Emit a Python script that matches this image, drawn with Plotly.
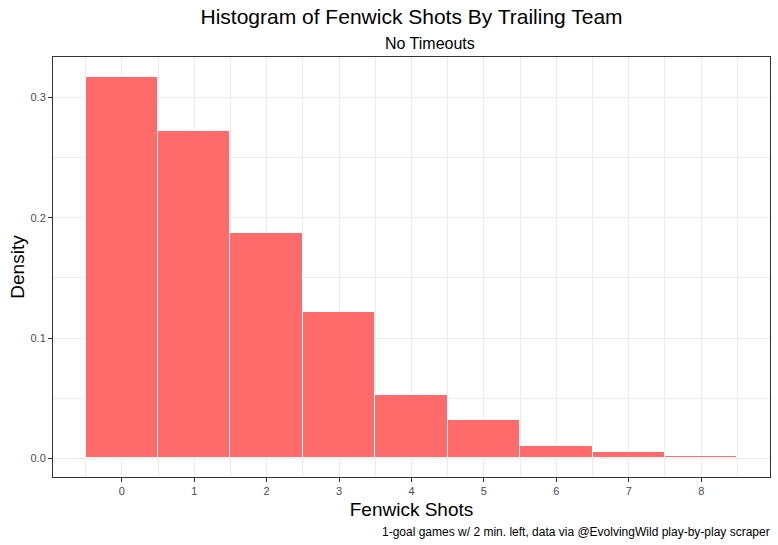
import plotly.graph_objects as go

shots = [0, 1, 2, 3, 4, 5, 6, 7, 8]
density = [0.3172, 0.2721, 0.1873, 0.1217, 0.0527, 0.0318, 0.0102, 0.0052, 0.0019]
y_ticks = [0.0, 0.1, 0.2, 0.3]
y_tick_labels = ["0.0", "0.1", "0.2", "0.3"]

FONT = "Arial, Liberation Sans, sans-serif"

fig = go.Figure()
fig.add_trace(go.Bar(
    x=shots, y=density, width=1,
    marker=dict(color="#FF6A6A", line=dict(color="white", width=1)),
    showlegend=False,
))

axis_common = dict(
    showline=True, linecolor="#333333", linewidth=1, mirror=True,
    ticks="outside", ticklen=4, tickcolor="#333333", tickwidth=1,
    tickfont=dict(family=FONT, size=11, color="#4d4d4d"),
    gridcolor="#ebebeb", gridwidth=1, zeroline=False, automargin=False,
)

fig.update_layout(
    width=778, height=545,
    margin=dict(l=53, r=8, t=57, b=68),
    plot_bgcolor="white", paper_bgcolor="white",
    font=dict(family=FONT, color="black"),
    bargap=0,
    title=dict(text="Histogram of Fenwick Shots By Trailing Team", x=0.529, xanchor="center",
               y=1 - 17 / 545, yanchor="middle", font=dict(size=21, color="black", family=FONT)),
    xaxis=dict(range=[-0.95, 8.95], tickmode="array", tickvals=shots,
               ticktext=[str(s) for s in shots],
               title=dict(text="Fenwick Shots", font=dict(size=19, family=FONT, color="black"), standoff=6),
               minor=dict(tick0=0.5, dtick=1, showgrid=True, gridcolor="#ebebeb", ticks=""),
               **axis_common),
    yaxis=dict(range=[-0.0155, 0.3336], tickmode="array", tickvals=y_ticks, ticktext=y_tick_labels,
               title=dict(text="Density", font=dict(size=19, family=FONT, color="black"), standoff=0),
               minor=dict(tick0=0.05, dtick=0.1, showgrid=True, gridcolor="#ebebeb", ticks=""),
               **axis_common),
    annotations=[
        dict(text="No Timeouts", xref="paper", yref="paper", x=0.526, y=1.0, yshift=14,
             xanchor="center", yanchor="middle", showarrow=False,
             font=dict(size=16, family=FONT, color="black")),
        dict(text="1-goal games w/ 2 min. left, data via @EvolvingWild play-by-play scraper",
             xref="paper", yref="paper", x=1.0, y=0, yshift=-55, xshift=2, xanchor="right",
             yanchor="middle", showarrow=False, font=dict(size=12, family=FONT, color="black")),
    ],
)

fig.write_html("out.html", config={"displayModeBar": False},
               post_script="document.body.style.margin='0';")
